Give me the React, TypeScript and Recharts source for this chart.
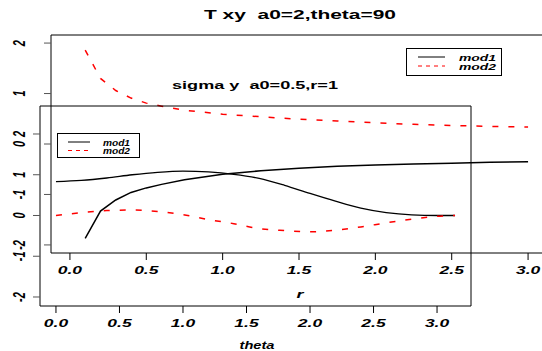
import { LineChart, Line, XAxis, YAxis, ReferenceArea, Legend } from "recharts";

// T xy (a0=2, theta=90) against r
const rValues = [0.1, 0.2, 0.3, 0.4, 0.5, 0.6, 0.75, 1.0, 1.25, 1.5, 1.75, 2.0, 2.25, 2.5, 2.75, 3.0];
const txyMod1 = [-1.87, -1.33, -1.11, -0.96, -0.87, -0.8, -0.71, -0.6, -0.53, -0.48, -0.44, -0.415, -0.395, -0.38, -0.36, -0.35];
const txyMod2 = [1.86, 1.3, 1.06, 0.91, 0.81, 0.75, 0.67, 0.59, 0.54, 0.49, 0.455, 0.42, 0.39, 0.365, 0.35, 0.335];
const rTicks = [0, 0.5, 1, 1.5, 2, 2.5, 3];

// sigma y (a0=0.5, r=1) against theta
const thetaValues = [0, 0.2, 0.4, 0.6, 0.8, 1.0, 1.2, 1.4, 1.6, 1.8, 2.0, 2.2, 2.4, 2.6, 2.8, 3.0, 3.1416];
const sigmaMod1 = [0.83, 0.86, 0.92, 1.0, 1.06, 1.09, 1.07, 1.01, 0.91, 0.74, 0.54, 0.35, 0.18, 0.07, 0.015, 0.0, 0.0];
const sigmaMod2 = [0.0, 0.07, 0.12, 0.135, 0.1, 0.02, -0.1, -0.2, -0.32, -0.37, -0.4, -0.36, -0.28, -0.18, -0.09, -0.02, 0.0];
const thetaTicks = [0, 0.5, 1, 1.5, 2, 2.5, 3];

const yTicks = [-2, -1, 0, 1, 2];

const txyData = rValues.map((r, i) => ({ r, mod1: txyMod1[i], mod2: txyMod2[i] }));
const sigmaData = thetaValues.map((theta, i) => ({ theta, mod1: sigmaMod1[i], mod2: sigmaMod2[i] }));

const FONT = "'Liberation Sans', Arial, Helvetica, sans-serif";
const DASH = "6 10";

function xTick(props: any) {
  const { x, y, payload } = props;
  return (
    <text
      transform={`translate(${x},${y + 12}) scale(1.75,1)`}
      textAnchor="middle"
      fontFamily={FONT}
      fontSize={10}
      fontWeight="bold"
      fontStyle="italic"
      fill="#000"
    >
      {Number(payload.value).toFixed(1)}
    </text>
  );
}

function yTick(props: any, dx: number) {
  const { x, y, payload } = props;
  return (
    <text
      transform={`translate(${x + dx},${y}) scale(1.5,1) rotate(-90)`}
      textAnchor="middle"
      fontFamily={FONT}
      fontSize={11}
      fontWeight="bold"
      fontStyle="italic"
      fill="#000"
    >
      {String(payload.value)}
    </text>
  );
}

function LegendBox({ w, h, lineX1, lineX2, textX, textW, rows }: any) {
  return (
    <svg width={w} height={h} style={{ display: "block", overflow: "visible" }}>
      <rect x={0.5} y={0.5} width={w - 1} height={h - 1} fill="none" stroke="#000" />
      {rows.map((row: any) => (
        <g key={row.name}>
          <line x1={lineX1} x2={lineX2} y1={row.ly} y2={row.ly} stroke={row.color} strokeDasharray={row.dash} />
          <text
            x={textX}
            y={row.ty}
            textLength={textW}
            lengthAdjust="spacingAndGlyphs"
            fontFamily={FONT}
            fontSize={8.5}
            fontWeight="bold"
            fontStyle="italic"
            fill="#000"
          >
            {row.name}
          </text>
        </g>
      ))}
    </svg>
  );
}

export default function App() {
  return (
    <div style={{ position: "absolute", left: 0, top: 0, width: 542, height: 351, overflow: "hidden", background: "#fff" }}>
      {/* T xy plot, its right edge runs off the page */}
      <div style={{ position: "absolute", left: 0, top: 0 }}>
        <LineChart width={600} height={351} data={txyData} margin={{ top: 35, right: 53, bottom: 0, left: 0 }}>
          <XAxis
            type="number"
            dataKey="r"
            domain={[-0.124, 3.124]}
            allowDataOverflow
            ticks={rTicks}
            interval={0}
            height={98}
            axisLine={false}
            tickSize={7}
            tickLine={{ stroke: "#000" }}
            tick={xTick}
          />
          <YAxis
            type="number"
            domain={[-2.16, 2.16]}
            allowDataOverflow
            ticks={yTicks}
            interval={0}
            width={51}
            axisLine={false}
            tickSize={7}
            tickLine={{ stroke: "#555" }}
            tick={(p: any) => yTick(p, -17)}
          />
          <ReferenceArea x1={-0.124} x2={3.124} y1={-2.16} y2={2.16} fill="none" stroke="#000" strokeWidth={1} ifOverflow="visible" />
          <Line type="linear" dataKey="mod1" stroke="#000" strokeWidth={1.5} dot={false} isAnimationActive={false} />
          <Line type="linear" dataKey="mod2" stroke="#ff0000" strokeWidth={1.5} strokeDasharray={DASH} dot={false} isAnimationActive={false} />
          <Legend
            align="center"
            verticalAlign="middle"
            wrapperStyle={{ left: 406, top: 48, width: 96, height: 28 }}
            content={() => (
              <LegendBox
                w={96}
                h={28}
                lineX1={12}
                lineX2={39}
                textX={53}
                textW={37}
                rows={[
                  { name: "mod1", color: "#000", dash: undefined, ly: 9, ty: 12.5 },
                  { name: "mod2", color: "#ff0000", dash: "4 4", ly: 18, ty: 22 },
                ]}
              />
            )}
          />
        </LineChart>
      </div>

      {/* sigma y plot drawn on top */}
      <div style={{ position: "absolute", left: 0, top: 0 }}>
        <LineChart width={542} height={351} data={sigmaData} margin={{ top: 106, right: 71, bottom: 0, left: 0 }}>
          <XAxis
            type="number"
            dataKey="theta"
            domain={[-0.1257, 3.2673]}
            allowDataOverflow
            ticks={thetaTicks}
            interval={0}
            height={45}
            axisLine={false}
            tickSize={7}
            tickLine={{ stroke: "#000" }}
            tick={xTick}
          />
          <YAxis
            type="number"
            domain={[-2.221, 2.687]}
            allowDataOverflow
            ticks={yTicks}
            interval={0}
            width={40}
            axisLine={false}
            tickSize={7}
            tickLine={{ stroke: "#555" }}
            tick={(p: any) => yTick(p, -6)}
          />
          <ReferenceArea x1={-0.1257} x2={3.2673} y1={-2.221} y2={2.687} fill="none" stroke="#000" strokeWidth={1} ifOverflow="visible" />
          <Line type="monotone" dataKey="mod1" stroke="#000" strokeWidth={1.3} dot={false} isAnimationActive={false} />
          <Line type="monotone" dataKey="mod2" stroke="#ff0000" strokeWidth={1.5} strokeDasharray={DASH} dot={false} isAnimationActive={false} />
          <Legend
            align="center"
            verticalAlign="middle"
            wrapperStyle={{ left: 57, top: 133, width: 83, height: 25 }}
            content={() => (
              <LegendBox
                w={83}
                h={25}
                lineX1={11}
                lineX2={33}
                textX={46}
                textW={27}
                rows={[
                  { name: "mod1", color: "#000", dash: undefined, ly: 9, ty: 12.5 },
                  { name: "mod2", color: "#ff0000", dash: "4 4", ly: 17.5, ty: 21 },
                ]}
              />
            )}
          />
        </LineChart>
      </div>

      {/* titles and axis names */}
      <svg width={542} height={351} style={{ position: "absolute", left: 0, top: 0, pointerEvents: "none" }}>
        <text x={300} y={19} xmlSpace="preserve" textAnchor="middle" textLength={192} lengthAdjust="spacingAndGlyphs" fontFamily={FONT} fontSize={12} fontWeight="bold" fill="#000">
          {"T xy  a0=2,theta=90"}
        </text>
        <text x={255} y={89} xmlSpace="preserve" textAnchor="middle" textLength={166} lengthAdjust="spacingAndGlyphs" fontFamily={FONT} fontSize={11} fontWeight="bold" fill="#000">
          {"sigma y  a0=0.5,r=1"}
        </text>
        <text x={300} y={298} textAnchor="middle" textLength={7} lengthAdjust="spacingAndGlyphs" fontFamily={FONT} fontSize={10} fontWeight="bold" fontStyle="italic" fill="#000">
          r
        </text>
        <text x={257} y={349} textAnchor="middle" textLength={35} lengthAdjust="spacingAndGlyphs" fontFamily={FONT} fontSize={10} fontWeight="bold" fontStyle="italic" fill="#000">
          theta
        </text>
      </svg>
    </div>
  );
}
